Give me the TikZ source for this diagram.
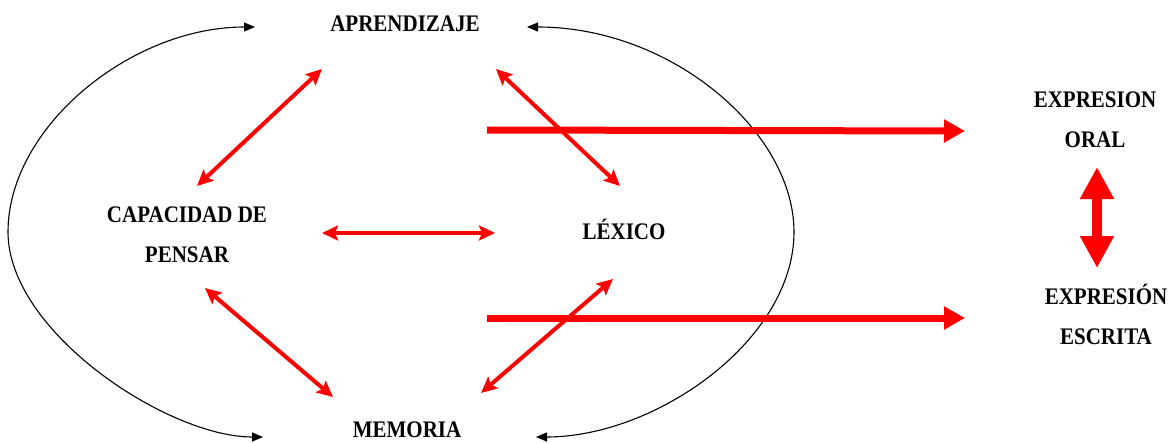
\documentclass[tikz,border=0pt]{standalone}
\usepackage{fontspec}
\usepackage{graphicx}
\setmainfont{Liberation Serif}
\usetikzlibrary{arrows.meta}
\newcommand{\talltext}[1]{\scalebox{1}[1.13]{#1}}
\begin{document}
\begin{tikzpicture}[x=1pt,y=-1pt,
  lbl/.style={font=\bfseries\fontsize{21}{40}\selectfont, inner sep=0pt, anchor=base, align=center},
  redarr/.style={draw=red, line width=4pt,
    {Stealth[length=16pt,width=15pt,inset=3pt]}-{Stealth[length=16pt,width=15pt,inset=3pt]}},
  bigarr/.style={draw=red, line width=7pt, -{Triangle[length=21pt,width=22pt]}},
  dblarr/.style={draw=red, line width=10pt,
    {Triangle[length=32pt,width=32pt]}-{Triangle[length=32pt,width=32pt]}},
  arcline/.style={draw=black, line width=1.1pt,
    {Triangle[length=11pt,width=9pt]}-{Triangle[length=11pt,width=9pt]}}
]
\useasboundingbox (0,0) rectangle (1175,442);
% labels (base anchor = baseline of the last line)
\node[lbl] (apr) at (405,31) {\talltext{APRENDIZAJE}};
\node[lbl] (cap) at (187,262) {\talltext{CAPACIDAD DE}\\\talltext{PENSAR}};
\node[lbl] (lex) at (624,239) {\talltext{LÉXICO}};
\node[lbl] (mem) at (407,437) {\talltext{MEMORIA}};
\node[lbl] (oral) at (1095,147) {\talltext{EXPRESION}\\\talltext{ORAL}};
\node[lbl] (escrita) at (1106,344) {\talltext{EXPRESIÓN}\\\talltext{ESCRITA}};
% auxiliary points of the enclosing arcs
\coordinate (leftmid) at (8,232);
\coordinate (rightmid) at (794,232);
% enclosing arcs
\draw[arcline] ([shift={(-150,-4)}]apr.base) .. controls +(-124,0) and +(0,-105) .. (leftmid)
  .. controls +(0,100) and +(-95,0) .. ([shift={(-144,0)}]mem.base);
\draw[arcline] ([shift={(122,-4)}]apr.base) .. controls +(145,0) and +(0,-100) .. (rightmid)
  .. controls +(0,108) and +(120,0) .. ([shift={(129,0)}]mem.base);
% red connectors
\draw[redarr] ([shift={(10,-76)}]cap.base) -- ([shift={(-83,38)}]apr.base);
\draw[redarr] ([shift={(91,38)}]apr.base) -- ([shift={(-4,-53)}]lex.base);
\draw[redarr] ([shift={(135,-29)}]cap.base) -- ([shift={(-129,-6)}]lex.base);
\draw[redarr] ([shift={(18,26)}]cap.base) -- ([shift={(-74,-40)}]mem.base);
\draw[redarr] ([shift={(74,-44)}]mem.base) -- ([shift={(-11,40)}]lex.base);
\draw[bigarr] ([shift={(-137,-109)}]lex.base) -- ([shift={(-130,-16)}]oral.base);
\draw[bigarr] ([shift={(-137,79)}]lex.base) -- ([shift={(-141,-26)}]escrita.base);
\draw[dblarr] ([shift={(2,20)}]oral.base) -- ([shift={(-9,-76)}]escrita.base);
\end{tikzpicture}
\end{document}
